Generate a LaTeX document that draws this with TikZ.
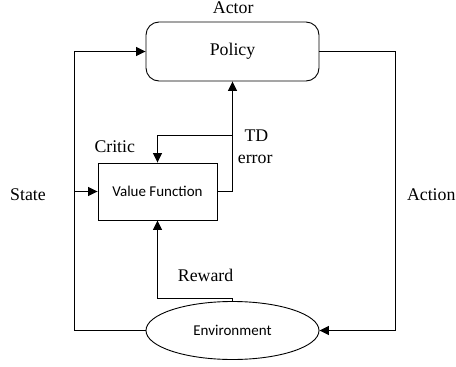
\documentclass[tikz,border=0pt]{standalone}
\usepackage{fontspec}
\setmainfont{Liberation Serif}
\newfontfamily\boxfont{Carlito}
\usetikzlibrary{arrows.meta,shapes.geometric}

\tikzset{
  lbl/.style={inner sep=0pt, anchor=base west, font=\rmfamily\fontsize{17.8}{20}\selectfont},
  flow/.style={line width=1pt},
  arr/.style={flow, -{Triangle[length=9.5pt,width=9pt]}},
  blockbox/.style={draw, line width=0.9pt, inner sep=0pt},
  sanslabel/.style={font=\boxfont\fontsize{15}{18}\selectfont},
  seriflabel/.style={font=\rmfamily\fontsize{17.8}{20}\selectfont},
}

\begin{document}
\begin{tikzpicture}[x=1pt,y=-1pt]
  \useasboundingbox (0,0) rectangle (456,367);

  % blocks
  \node[blockbox, seriflabel, rounded corners=13pt, minimum width=173pt, minimum height=59pt]
       (policy) at (232.5,51.5) {Policy};
  \node[blockbox, sanslabel, minimum width=119pt, minimum height=57pt] (vf) at (157.5,191.5) {Value Function};
  \node[blockbox, sanslabel, ellipse, minimum width=173pt, minimum height=58pt] (env) at (232.5,330.5) {Environment};

  % routing points
  \coordinate (sl) at (74,330.5);
  \coordinate (st) at (74,51.5);
  \coordinate (sv) at (74,191.5);
  \coordinate (ar) at (395,51.5);
  \coordinate (ab) at (395,330.5);
  \coordinate (tdj) at (232.5,191.5);
  \coordinate (tdk) at (232.5,135);
  \coordinate (tdl) at (157.5,135);
  \coordinate (rw1) at (232.5,298);
  \coordinate (rw2) at (157.5,298);

  % state loop
  \draw[arr] (env.west) -- (sl) -- (st) -- (policy.west);
  \draw[arr] (sv) -- (vf.west);
  % action loop
  \draw[arr] (policy.east) -- (ar) -- (ab) -- (env.east);
  % TD error
  \draw[arr] (vf.east) -- (tdj) -- (policy.south);
  \draw[arr] (tdk) -- (tdl) -- (vf.north);
  % reward
  \draw[arr] (env.north) -- (rw1) -- (rw2) -- (vf.south);

  % labels
  \node[lbl] (actor) at (212.7,13.5) {Actor};
  \node[lbl] (critic) at (94.3,152.5) {Critic};
  \node[lbl] (td) at (244.3,141) {TD};
  \node[lbl] (err) at (237.7,163.5) {error};
  \node[lbl] (state) at (10,200.5) {State};
  \node[lbl] (action) at (406.8,200.5) {Action};
  \node[lbl] (reward) at (177.7,281.7) {Reward};
\end{tikzpicture}
\end{document}
